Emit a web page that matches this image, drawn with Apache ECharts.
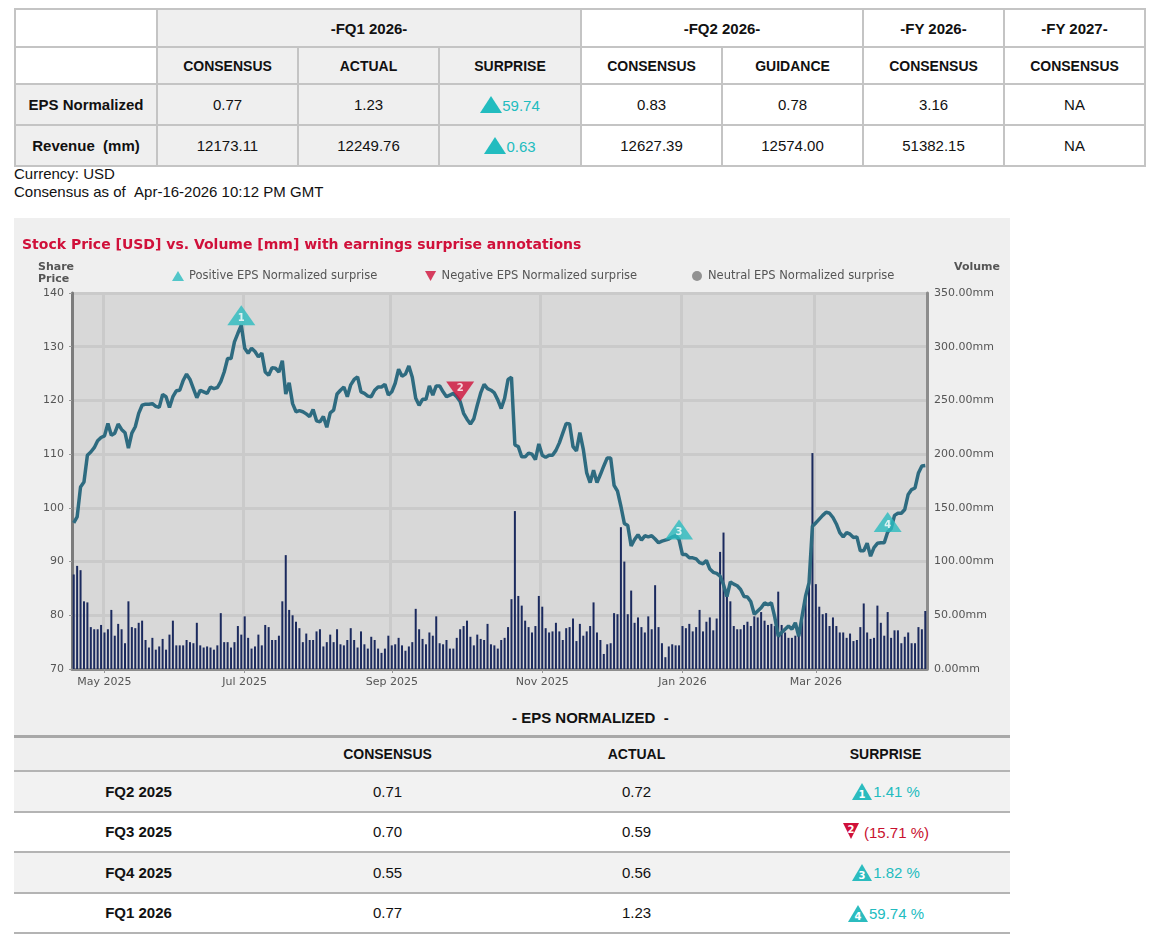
<!DOCTYPE html>
<html>
<head>
<meta charset="utf-8">
<script src="https://cdn.jsdelivr.net/npm/echarts@6/dist/echarts.min.js"></script>
<style>
  body { margin: 0; background: #fff; width: 1154px; height: 944px; overflow: hidden; position: relative;
         font-family: "Liberation Sans", Arial, sans-serif; color: #111; }
  table { border-collapse: collapse; table-layout: fixed; position: absolute; }
  .t1 { left: 14px; top: 8px; }
  .t1 td { border: 2px solid #c4c4c4; text-align: center; padding: 0; font-size: 15px; }
  .t1 .g { background: #efefef; }
  .t1 .h { font-weight: bold; font-size: 15px; }
  .t1 .s { font-weight: bold; font-size: 14px; }
  .t1 .l { font-weight: bold; font-size: 15px; }
  .pos { color: #22bcbf; }
  .neg { color: #c8102e; }
  .tri { display: inline-block; width: 0; height: 0; border-left: 11px solid transparent; border-right: 11px solid transparent;
         border-bottom: 17px solid #22bcbf; vertical-align: -2px; }
  .note { position: absolute; left: 14px; top: 165px; font-size: 15px; line-height: 18px; }
  #chart { position: absolute; left: 14px; top: 218px; width: 996px; height: 482px; }
  .t2 { left: 14px; top: 700px; width: 996px; }
  .t2 td { text-align: center; padding: 0; font-size: 15px; }
  .t2 .hd { background: #efefef; height: 35px; font-weight: bold; text-align: left; padding-left: 498px; border-bottom: 3px solid #a8a8a8; }
  .t2 .sh td { background: #efefef; height: 32px; font-weight: bold; font-size: 14px; border-bottom: 2px solid #b4b4b4; }
  .t2 .r td { height: 38.5px; border-bottom: 2px solid #b4b4b4; }
  .t2 .r.a td { background: #f2f2f2; }
  .t2 .lb { font-weight: bold; }
  .ic { display: inline-block; position: relative; width: 22px; height: 18px; vertical-align: -3px; }
  .ic svg { position: absolute; left: 0; top: 0; }
</style>
</head>
<body>

<table class="t1">
  <colgroup>
    <col style="width:142px"><col style="width:141px"><col style="width:141px"><col style="width:142px">
    <col style="width:141px"><col style="width:141px"><col style="width:141px"><col style="width:141px">
  </colgroup>
  <tr style="height:38px">
    <td></td>
    <td class="g h" colspan="3">-FQ1 2026-</td>
    <td class="h" colspan="2">-FQ2 2026-</td>
    <td class="h">-FY 2026-</td>
    <td class="h">-FY 2027-</td>
  </tr>
  <tr style="height:37px">
    <td></td>
    <td class="g s">CONSENSUS</td><td class="g s">ACTUAL</td><td class="g s">SURPRISE</td>
    <td class="s">CONSENSUS</td><td class="s">GUIDANCE</td><td class="s">CONSENSUS</td><td class="s">CONSENSUS</td>
  </tr>
  <tr style="height:41px">
    <td class="g l">EPS Normalized</td>
    <td class="g">0.77</td><td class="g">1.23</td>
    <td class="g"><span class="tri"></span><span class="pos">59.74</span></td>
    <td>0.83</td><td>0.78</td><td>3.16</td><td>NA</td>
  </tr>
  <tr style="height:41px">
    <td class="g l">Revenue&nbsp; (mm)</td>
    <td class="g">12173.11</td><td class="g">12249.76</td>
    <td class="g"><span class="tri"></span><span class="pos">0.63</span></td>
    <td>12627.39</td><td>12574.00</td><td>51382.15</td><td>NA</td>
  </tr>
</table>

<div class="note">Currency: USD<br>Consensus as of &nbsp;Apr-16-2026 10:12 PM GMT</div>

<div id="chart"></div>

<table class="t2">
  <colgroup><col style="width:249px"><col style="width:249px"><col style="width:249px"><col style="width:249px"></colgroup>
  <tr><td class="hd" colspan="4">- EPS NORMALIZED &nbsp;-</td></tr>
  <tr class="sh"><td></td><td>CONSENSUS</td><td>ACTUAL</td><td>SURPRISE</td></tr>
  <tbody id="epsRows"></tbody>
</table>

<script>
// ---- data ----
const startDate = '2025-04-17';
const endDate = '2026-04-16';
const marketHolidays = ['2025-04-18', '2025-05-26', '2025-06-19', '2025-07-04', '2025-09-01', '2025-11-27',
  '2025-12-25', '2026-01-01', '2026-01-19', '2026-02-16', '2026-04-03'];
const tickLabels = ['May 2025', 'Jul 2025', 'Sep 2025', 'Nov 2025', 'Jan 2026', 'Mar 2026'];

// closing share price, one per trading day
const price = [
  97.2, 98.3, 103.9, 104.8, 109.8, 110.4, 111.2, 112.5, 113.1, 113.4,
  115.7, 113.5, 113.9, 115.6, 114.6, 114.0, 111.1, 113.9, 115.1, 117.6,
  119.1, 119.3, 119.3, 119.4, 118.9, 118.7, 121.1, 120.7, 118.7, 120.7,
  121.8, 121.9, 123.7, 124.9, 123.9, 122.2, 120.5, 121.9, 121.6, 121.3,
  122.5, 122.2, 122.4, 123.5, 125.3, 127.8, 127.8, 130.9, 132.5, 134.0,
  129.7, 128.8, 129.7, 129.1, 128.1, 128.8, 125.3, 124.7, 126.1, 126.0,
  125.3, 127.4, 121.2, 123.3, 119.4, 117.9, 118.1, 117.9, 117.5, 117.0,
  118.3, 116.2, 116.0, 117.0, 115.0, 117.7, 118.2, 121.2, 121.9, 122.5,
  120.7, 122.9, 123.9, 124.4, 121.6, 121.3, 120.8, 120.7, 121.9, 122.5,
  122.5, 123.0, 121.0, 121.6, 123.2, 125.8, 124.5, 124.9, 126.4, 124.3,
  120.4, 119.1, 120.2, 120.2, 122.7, 121.0, 122.7, 122.7, 121.6, 120.7,
  121.0, 121.3, 120.7, 119.8, 117.6, 116.5, 115.6, 116.6, 119.1, 121.4,
  123.0, 122.2, 121.9, 121.4, 120.1, 118.5, 120.4, 123.9, 124.3, 111.7,
  111.4, 109.5, 109.5, 110.2, 110.0, 109.0, 111.9, 109.8, 109.4, 109.8,
  109.8, 110.7, 112.1, 113.9, 115.7, 115.6, 111.4, 110.6, 114.0, 110.9,
  106.5, 104.7, 107.0, 104.7, 106.2, 107.8, 109.3, 109.3, 104.2, 103.1,
  100.3, 97.1, 96.7, 92.9, 94.1, 95.0, 94.0, 94.8, 94.6, 94.8,
  94.2, 93.5, 93.8, 94.0, 94.2, 94.6, 94.8, 94.1, 91.3, 91.3,
  90.7, 90.7, 90.5, 89.8, 89.6, 90.2, 88.6, 88.0, 87.8, 87.3,
  85.7, 83.5, 86.2, 85.8, 85.5, 84.8, 83.5, 83.4, 82.5, 80.2,
  80.8, 81.4, 82.3, 82.0, 82.3, 79.6, 76.1, 76.8, 77.4, 78.0,
  77.4, 78.6, 76.1, 79.9, 83.6, 86.0, 96.6, 97.2, 97.9, 98.6,
  99.2, 99.0, 98.2, 97.0, 95.4, 94.6, 95.4, 95.1, 94.5, 94.6,
  92.0, 92.0, 93.4, 91.0, 92.6, 93.4, 93.5, 93.5, 95.5, 96.1,
  98.6, 99.0, 99.0, 99.7, 102.5, 103.4, 103.7, 106.5, 107.8, 107.9
];

// volume in millions, one per trading day
const volume = [
  88, 96, 92, 63, 62, 39, 37, 37, 41, 34,
  37, 55, 31, 42, 37, 24, 63, 39, 38, 43,
  45, 27, 20, 29, 18, 21, 28, 18, 32, 45,
  22, 22, 22, 27, 25, 24, 43, 22, 20, 21,
  20, 18, 22, 52, 25, 25, 20, 25, 40, 32,
  49, 29, 19, 21, 32, 22, 41, 39, 27, 27,
  31, 63, 106, 55, 50, 44, 38, 25, 33, 27,
  27, 35, 37, 21, 25, 32, 25, 37, 23, 22,
  27, 38, 27, 20, 35, 23, 19, 30, 27, 19,
  15, 19, 31, 22, 23, 29, 22, 17, 21, 25,
  56, 37, 28, 23, 34, 31, 49, 24, 23, 27,
  19, 19, 29, 37, 40, 45, 30, 22, 32, 28,
  27, 42, 23, 22, 19, 27, 29, 39, 65, 147,
  68, 59, 45, 39, 34, 40, 68, 58, 38, 34,
  35, 43, 35, 27, 38, 39, 47, 26, 42, 31,
  35, 40, 62, 34, 27, 14, 23, 24, 52, 51,
  132, 100, 51, 73, 43, 48, 39, 34, 49, 37,
  78, 39, 24, 11, 21, 23, 22, 22, 40, 38,
  42, 35, 39, 55, 35, 44, 48, 36, 47, 109,
  127, 68, 63, 40, 37, 37, 41, 44, 40, 49,
  48, 53, 45, 41, 42, 40, 72, 41, 34, 29,
  29, 31, 32, 45, 68, 85, 201, 79, 58, 51,
  52, 40, 48, 40, 34, 34, 29, 33, 26, 27,
  39, 61, 34, 28, 29, 59, 43, 31, 53, 29,
  36, 36, 24, 30, 34, 24, 24, 39, 37, 54
];

// earnings annotations: trading-day index and label
const positiveIdx = [49, 177, 238];
const positiveLabels = ['1', '3', '4'];
const negativeIdx = [113];
const negativeLabels = ['2'];

// EPS table
const epsQuarters = ['FQ2 2025', 'FQ3 2025', 'FQ4 2025', 'FQ1 2026'];
const epsConsensus = ['0.71', '0.70', '0.55', '0.77'];
const epsActual = ['0.72', '0.59', '0.56', '1.23'];
const epsSurprise = [1.41, -15.71, 1.82, 59.74];

// ---- trading day categories ----
function tradingDays() {
  const out = [];
  const d = new Date(startDate + 'T00:00:00Z');
  const end = new Date(endDate + 'T00:00:00Z');
  while (d <= end) {
    const s = d.toISOString().slice(0, 10);
    const wd = d.getUTCDay();
    if (wd !== 0 && wd !== 6 && !marketHolidays.includes(s)) out.push(s);
    d.setUTCDate(d.getUTCDate() + 1);
  }
  return out;
}
const dates = tradingDays();
const monthNames = ['Jan', 'Feb', 'Mar', 'Apr', 'May', 'Jun', 'Jul', 'Aug', 'Sep', 'Oct', 'Nov', 'Dec'];
const monthLabel = s => monthNames[+s.slice(5, 7) - 1] + ' ' + s.slice(0, 4);
const tickSet = new Set();
const seen = {};
dates.forEach((d, i) => {
  const lab = monthLabel(d);
  if (tickLabels.includes(lab) && !seen[lab]) { seen[lab] = true; tickSet.add(i); }
});

// ---- chart ----
const FONT = 'DejaVu Sans';
const TEAL = '#2bbcbf';
const RED = '#d0103a';
const myChart = echarts.init(document.getElementById('chart'));

const markerLabel = {
  show: true, position: 'inside', color: '#fff', fontWeight: 'bold', fontSize: 10, fontFamily: FONT
};

const option = {
  backgroundColor: '#efefef',
  animation: false,
  title: [
    { text: 'Stock Price [USD] vs. Volume [mm] with earnings surprise annotations', left: 8, top: 20, padding: 0,
      textStyle: { color: RED, fontSize: 14, fontWeight: 'bold', fontFamily: FONT } },
    { text: 'Share\nPrice', left: 24, top: 43, padding: 0,
      textStyle: { color: '#555', fontSize: 11, fontWeight: 'bold', fontFamily: FONT, lineHeight: 12 } },
    { text: 'Volume', right: 10, top: 44, padding: 0,
      textStyle: { color: '#555', fontSize: 11, fontWeight: 'bold', fontFamily: FONT } }
  ],
  legend: [
    { data: [{ name: 'Positive EPS Normalized surprise', icon: 'triangle' }], left: 158, top: 52 },
    { data: [{ name: 'Negative EPS Normalized surprise', icon: 'path://M0,0L10,0L5,9Z' }], left: 411, top: 52 },
    { data: [{ name: 'Neutral EPS Normalized surprise', icon: 'circle' }], left: 678, top: 52 }
  ].map(l => Object.assign(l, {
    selectedMode: false, itemWidth: 12, itemHeight: 10, padding: 0,
    textStyle: { color: '#555', fontSize: 11.5, fontFamily: FONT }
  })),
  grid: { left: 58, right: 83, top: 75, bottom: 31, show: true, backgroundColor: '#d8d8d8', borderWidth: 0 },
  xAxis: {
    type: 'category',
    data: dates,
    boundaryGap: true,
    axisLine: { show: true, lineStyle: { color: '#8c8c8c', width: 3 } },
    axisTick: { show: true, interval: i => tickSet.has(i), alignWithLabel: true, length: 4, lineStyle: { color: '#999' } },
    axisLabel: { interval: i => tickSet.has(i), formatter: v => monthLabel(v), color: '#555', fontSize: 11,
      fontFamily: FONT, margin: 8 },
    splitLine: { show: true, interval: i => tickSet.has(i), lineStyle: { color: '#cacaca', width: 3 } }
  },
  yAxis: [
    {
      type: 'value', min: 70, max: 140, interval: 10, position: 'left',
      axisLine: { show: true, lineStyle: { color: '#7c7c7c', width: 3 } },
      axisTick: { show: true, length: 3, lineStyle: { color: '#999' } },
      axisLabel: { color: '#555', fontSize: 11, fontFamily: FONT, margin: 8 },
      splitLine: { show: true, lineStyle: { color: '#cacaca', width: 3 } }
    },
    {
      type: 'value', min: 0, max: 350, interval: 50, position: 'right',
      axisLine: { show: true, lineStyle: { color: '#8c8c8c', width: 3 } },
      axisTick: { show: false },
      axisLabel: { color: '#555', fontSize: 11, fontFamily: FONT, margin: 7, formatter: v => v.toFixed(2) + 'mm' },
      splitLine: { show: false }
    }
  ],
  series: [
    { name: 'Volume', type: 'bar', yAxisIndex: 1, data: volume, barWidth: 2, itemStyle: { color: '#1b2a5e' }, z: 2 },
    { name: 'Price', type: 'line', yAxisIndex: 0, data: price, symbol: 'none', lineStyle: { color: '#2e6b80', width: 3.5 }, z: 3 },
    {
      name: 'Positive EPS Normalized surprise', type: 'scatter', yAxisIndex: 0, z: 5,
      symbol: 'triangle', symbolSize: [28, 20], symbolOffset: [0, -10],
      itemStyle: { color: TEAL },
      label: Object.assign({ formatter: p => positiveLabels[p.dataIndex], offset: [0, 3] }, markerLabel),
      data: positiveIdx.map(i => [i, price[i]])
    },
    {
      name: 'Negative EPS Normalized surprise', type: 'scatter', yAxisIndex: 0, z: 5,
      symbol: 'path://M0,0L10,0L5,7Z', symbolSize: [28, 20], symbolOffset: [0, -10],
      itemStyle: { color: RED },
      label: Object.assign({ formatter: p => negativeLabels[p.dataIndex], offset: [0, -3] }, markerLabel),
      data: negativeIdx.map(i => [i, price[i]])
    },
    { name: 'Neutral EPS Normalized surprise', type: 'scatter', yAxisIndex: 0, symbol: 'circle',
      itemStyle: { color: '#7a7a7a' }, data: [] }
  ]
};
myChart.setOption(option);

// ---- EPS table rows ----
function icon(n, up) {
  const c = up ? TEAL : RED;
  const path = up ? 'M11,1 L21,18 L1,18 Z' : 'M1,0 L17,0 L9,16 Z';
  const ty = up ? 16 : 10;
  const tx = up ? 11 : 9;
  return '<span class="ic"><svg width="22" height="18"><path d="' + path + '" fill="' + c + '"/>' +
    '<text x="' + tx + '" y="' + ty + '" font-size="10" font-weight="bold" fill="#fff" text-anchor="middle" font-family="DejaVu Sans">' +
    n + '</text></svg></span>';
}
const body = document.getElementById('epsRows');
epsQuarters.forEach((q, i) => {
  const s = epsSurprise[i];
  const up = s >= 0;
  const txt = up ? '<span class="pos">' + s.toFixed(2) + ' %</span>' : '<span class="neg">(' + Math.abs(s).toFixed(2) + ' %)</span>';
  const tr = document.createElement('tr');
  tr.className = 'r' + (i % 2 === 0 ? ' a' : '');
  tr.innerHTML = '<td class="lb">' + q + '</td><td>' + epsConsensus[i] + '</td><td>' + epsActual[i] + '</td><td>' +
    icon(i + 1, up) + txt + '</td>';
  body.appendChild(tr);
});
</script>
</body>
</html>
